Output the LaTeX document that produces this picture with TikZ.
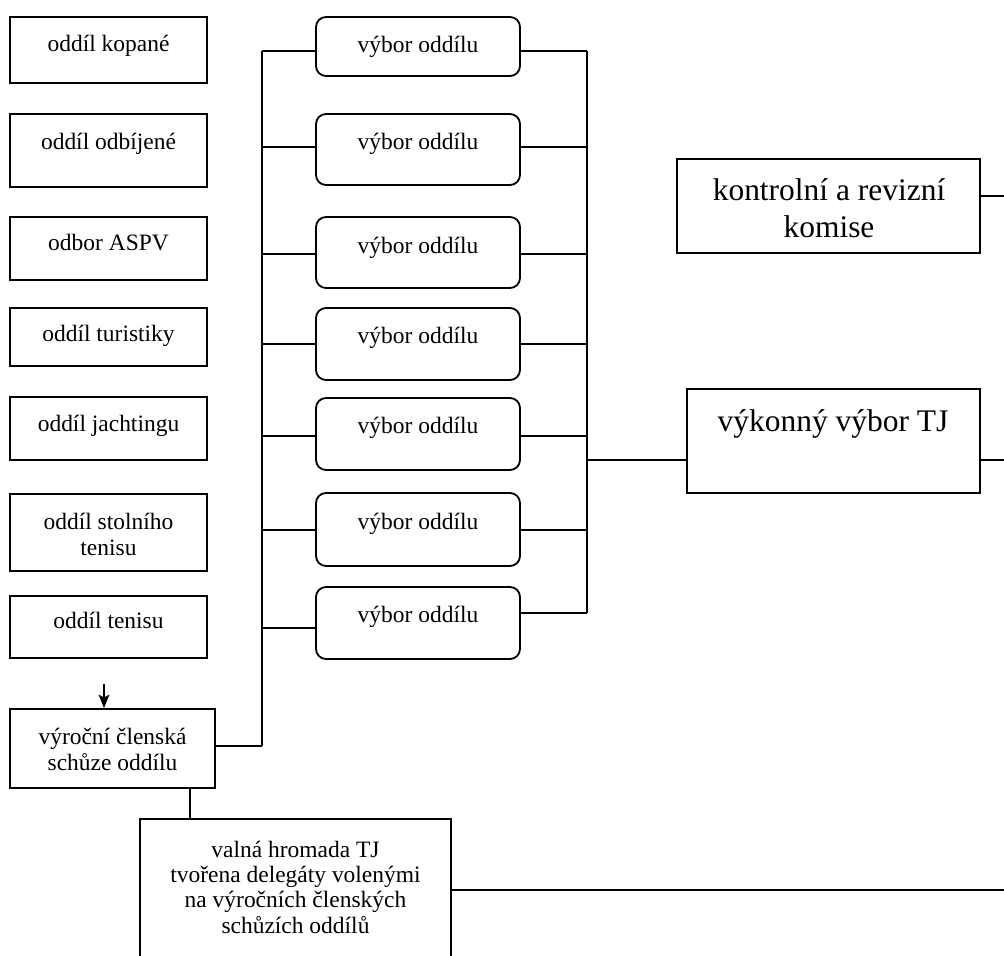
\documentclass[tikz,border=0pt]{standalone}
\usepackage{fontspec}
\setmainfont{Liberation Serif}
\usetikzlibrary{fit,arrows.meta}
\newcommand\fsmall{\fontsize{17.6pt}{19pt}\selectfont}
\newcommand\fbig{\fontsize{23.6pt}{27.75pt}\selectfont}
\tikzset{
  box/.style={draw, line width=1.35pt, inner sep=0pt},
  rbox/.style={box, rounded corners=7.5pt},
  lbl/.style={font=\fsmall, inner sep=0pt, align=center, anchor=base},
  biglbl/.style={font=\fbig, inner sep=0pt, align=center, anchor=base},
  conn/.style={line width=1.35pt},
}
\begin{document}
\begin{tikzpicture}[x=0.75pt, y=-0.75pt]
\fill[white] (0,0) rectangle (1004,956);
\useasboundingbox (0,0) rectangle (1004,956);
\clip (0,0) rectangle (1004,956);

% left column
\node[box, fit={(10,17) (207,83)}] (b1) {};
\node[box, fit={(10,114) (207,187)}] (b2) {};
\node[box, fit={(10,217) (207,280)}] (b3) {};
\node[box, fit={(10,308) (207,366)}] (b4) {};
\node[box, fit={(10,397) (207,460)}] (b5) {};
\node[box, fit={(10,494) (207,571)}] (b6) {};
\node[box, fit={(10,596) (207,658)}] (b7) {};
\node[box, fit={(10,709) (215,788)}] (v) {};

\node[lbl] (t1) at (108.5,52) {oddíl kopané};
\node[lbl] (t2) at (108.5,149) {oddíl odbíjené};
\node[lbl] (t3) at (108.5,250) {odbor ASPV};
\node[lbl] (t4) at (108.5,341) {oddíl turistiky};
\node[lbl] (t5) at (108.5,431) {oddíl jachtingu};
\node[lbl] (t6) at (108.5,555) {oddíl stolního\\tenisu};
\node[lbl] (t7) at (108.5,628) {oddíl tenisu};
\node[lbl] (tv) at (112.5,770) {výroční členská\\schůze oddílu};

% middle column
\node[rbox, fit={(316,17) (520,76)}] (m1) {};
\node[rbox, fit={(316,114) (520,185)}] (m2) {};
\node[rbox, fit={(316,217) (520,288)}] (m3) {};
\node[rbox, fit={(316,308) (520,380)}] (m4) {};
\node[rbox, fit={(316,398) (520,470)}] (m5) {};
\node[rbox, fit={(316,493) (520,566)}] (m6) {};
\node[rbox, fit={(316,587) (520,659)}] (m7) {};

\node[lbl] (tm1) at (418,53) {výbor oddílu};
\node[lbl] (tm2) at (418,150) {výbor oddílu};
\node[lbl] (tm3) at (418,253) {výbor oddílu};
\node[lbl] (tm4) at (418,343) {výbor oddílu};
\node[lbl] (tm5) at (418,433) {výbor oddílu};
\node[lbl] (tm6) at (418,529) {výbor oddílu};
\node[lbl] (tm7) at (418,622) {výbor oddílu};

% right column
\node[box, fit={(677,159) (980,253)}] (k) {};
\node[box, fit={(687,389) (980,493)}] (vk) {};
\node[biglbl] (tk) at (829,237) {kontrolní a revizní\\komise};
\node[biglbl] (tvk) at (833,431) {výkonný výbor TJ};

% general assembly
\node[box, fit={(140,819) (451,990)}] (vh) {};
\node[lbl] (tvh) at (295.5,933) {valná hromada TJ\\tvořena delegáty volenými\\na výročních členských\\schůzích oddílů};

% junctions
\coordinate (L1) at (262,51);
\coordinate (L2) at (262,147);
\coordinate (L3) at (262,254);
\coordinate (L4) at (262,344);
\coordinate (L5) at (262,436);
\coordinate (L6) at (262,530);
\coordinate (L7) at (262,628);
\coordinate (Lv) at (262,746);
\coordinate (R1) at (587,51);
\coordinate (R2) at (587,147);
\coordinate (R3) at (587,254);
\coordinate (R4) at (587,344);
\coordinate (R5) at (587,436);
\coordinate (R6) at (587,530);
\coordinate (R7) at (587,613);
\coordinate (Rk) at (587,460);
\coordinate (E1) at (1004,196);
\coordinate (E2) at (1004,460);
\coordinate (E3) at (1004,890);
\coordinate (X) at (190,0);
\coordinate (A) at (104,684);

\draw[conn] (L1) -- (Lv);
\draw[conn] (R1) -- (R7);
\foreach \i in {1,...,7}{
  \draw[conn] (m\i.west |- L\i) -- (L\i);
  \draw[conn] (m\i.east |- R\i) -- (R\i);
}
\draw[conn] (v.east |- Lv) -- (Lv);
\draw[conn] (Rk) -- (vk.west |- Rk);
\draw[conn] (k.east |- E1) -- (E1);
\draw[conn] (vk.east |- E2) -- (E2);
\draw[conn] (vh.east |- E3) -- (E3);
\draw[conn] (v.south -| X) -- (vh.north -| X);
\draw[conn, -{Stealth[length=10pt, width=8pt, inset=2pt]}] (A) -- (v.north -| A);
\end{tikzpicture}
\end{document}
